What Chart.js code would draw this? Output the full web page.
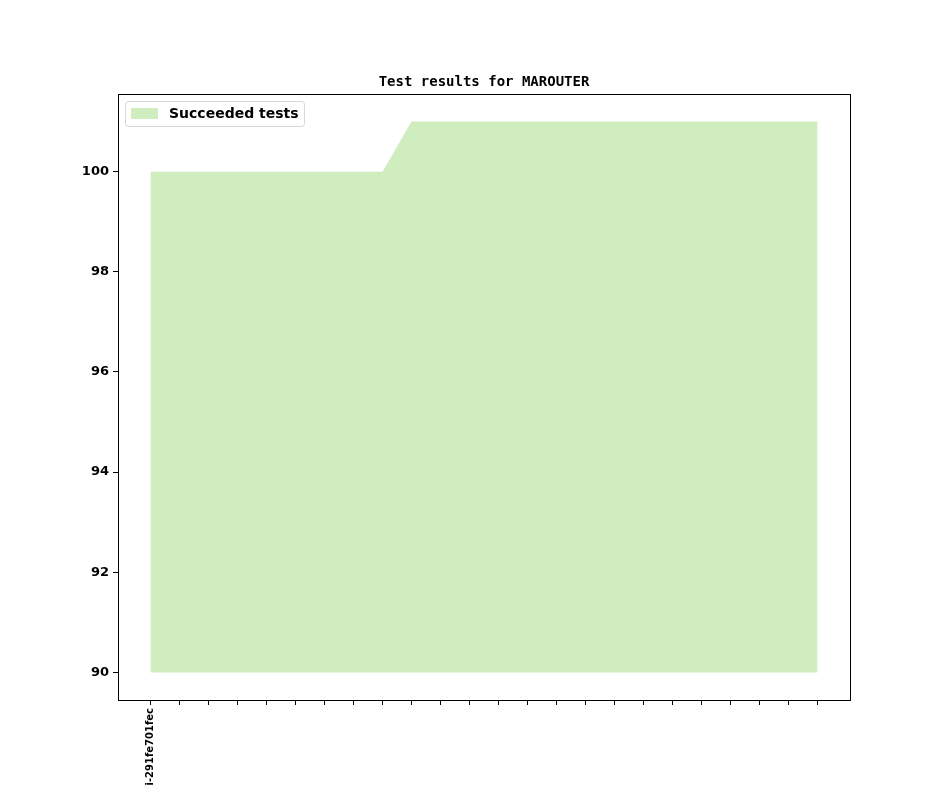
<!DOCTYPE html>
<html>
<head>
<meta charset="utf-8">
<title>Test results for MAROUTER</title>
<script src="https://cdn.jsdelivr.net/npm/chart.js@4.4.1/dist/chart.umd.min.js"></script>
<style>
  html, body { margin: 0; padding: 0; background: #fff; }
  #wrap { width: 944px; height: 787px; }
</style>
</head>
<body>
<div id="wrap"><canvas id="chart" width="944" height="787"></canvas></div>
<script>
// Datos
const titleText = 'Test results for MAROUTER';
const seriesLabel = 'Succeeded tests';
const commitLabels = ['i-291fe701fec', '', '', '', '', '', '', '', '', '', '', '',
                      '', '', '', '', '', '', '', '', '', '', '', ''];
const succeeded = [100, 100, 100, 100, 100, 100, 100, 100, 100,
                   101, 101, 101, 101, 101, 101, 101, 101, 101, 101, 101, 101, 101, 101, 101];
const baseValue = 90;
const yTicks = [90, 92, 94, 96, 98, 100];

(function () {
    const fillColor = '#cfedbf';
    const points = succeeded.map((v, i) => ({ x: i, y: v }));
    const n = succeeded.length - 1;
    const top = Math.max(...succeeded);
    const yMin = baseValue - (top - baseValue) * 0.05;
    const yMax = top + (top - baseValue) * 0.05;

    // marco del área de datos, título y leyenda estilo matplotlib
    const framePlugin = {
        id: 'frame',
        afterDraw(chart) {
            const { ctx, chartArea: a } = chart;
            ctx.save();
            ctx.strokeStyle = '#000';
            ctx.lineWidth = 1;
            ctx.strokeRect(Math.round(a.left) + 0.5, Math.round(a.top) + 0.5,
                           Math.round(a.right - a.left), Math.round(a.bottom - a.top));

            // título
            ctx.fillStyle = '#000';
            ctx.font = 'bold 14px "DejaVu Sans Mono", monospace';
            ctx.textAlign = 'center';
            ctx.textBaseline = 'alphabetic';
            ctx.fillText(titleText, (a.left + a.right) / 2, a.top - 8);

            // leyenda
            const lx = a.left + 7, ly = a.top + 7, lw = 179, lh = 25;
            ctx.beginPath();
            ctx.roundRect(lx + 0.5, ly + 0.5, lw, lh, 3);
            ctx.fillStyle = 'rgba(255,255,255,0.8)';
            ctx.fill();
            ctx.strokeStyle = '#d6d6d6';
            ctx.stroke();
            ctx.fillStyle = fillColor;
            ctx.fillRect(lx + 6, ly + 7, 27, 11);
            ctx.fillStyle = '#000';
            ctx.font = 'bold 14px "DejaVu Sans", sans-serif';
            ctx.textAlign = 'left';
            ctx.fillText(seriesLabel, lx + 44, ly + 17);
            ctx.restore();
        }
    };

    new Chart(document.getElementById('chart'), {
        type: 'line',
        data: {
            datasets: [{
                label: seriesLabel,
                data: points,
                fill: { value: baseValue },
                backgroundColor: fillColor,
                borderWidth: 0,
                borderColor: 'rgba(0,0,0,0)',
                pointRadius: 0,
                tension: 0
            }]
        },
        options: {
            responsive: false,
            animation: false,
            devicePixelRatio: 1,
            layout: { padding: { left: 0, right: 94, top: 94, bottom: 0 } },
            plugins: {
                legend: { display: false },
                title: { display: false },
                tooltip: { enabled: false }
            },
            scales: {
                x: {
                    type: 'linear',
                    min: -1.12,
                    max: n + 1.12,
                    afterBuildTicks: s => { s.ticks = commitLabels.map((_, i) => ({ value: i })); },
                    afterFit: s => { s.height = 87; },
                    ticks: {
                        autoSkip: false,
                        minRotation: 90,
                        maxRotation: 90,
                        padding: 3,
                        color: '#000',
                        font: { family: '"DejaVu Sans", sans-serif', size: 10, weight: 'bold' },
                        callback: v => commitLabels[v] || ''
                    },
                    grid: { drawOnChartArea: false, drawTicks: true, tickLength: 5, color: '#000' },
                    border: { display: true, color: '#000' }
                },
                y: {
                    min: yMin,
                    max: yMax,
                    afterBuildTicks: s => { s.ticks = yTicks.map(v => ({ value: v })); },
                    afterFit: s => { s.width = 118; },
                    ticks: {
                        padding: 4,
                        color: '#000',
                        font: { family: '"DejaVu Sans", sans-serif', size: 13, weight: 'bold' },
                        callback: v => String(v)
                    },
                    grid: { drawOnChartArea: false, drawTicks: true, tickLength: 5, color: '#000' },
                    border: { display: true, color: '#000' }
                }
            }
        },
        plugins: [framePlugin]
    });
})();
</script>
</body>
</html>
